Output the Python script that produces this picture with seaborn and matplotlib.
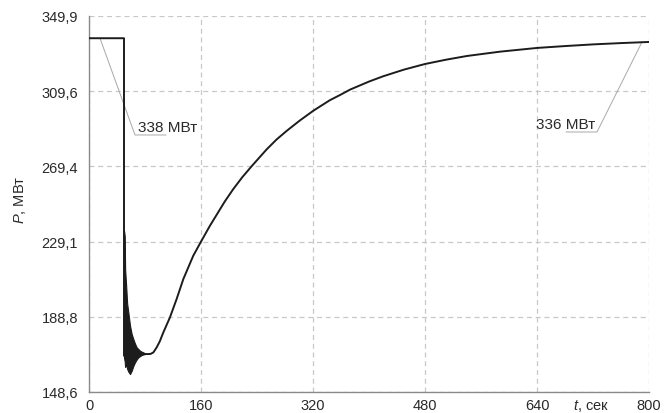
import matplotlib
matplotlib.use("Agg")
import matplotlib.pyplot as plt
import seaborn as sns
import numpy as np
import pandas as pd
from matplotlib.ticker import AutoMinorLocator

# ---- data ----
t_main = [0, 50, 50, 60, 70, 78, 84, 88, 92, 96.7, 101, 106.2, 115.7, 125.2,
          134.8, 149, 160, 172.9, 182.4, 194, 206.2, 219, 232.4, 253.8, 268,
          282.4, 301, 320.5, 344, 358.6, 373, 400, 420, 450, 480, 510, 540,
          587, 640, 680, 720, 760, 800]
p_main = [338.0, 338.0, 168.0, 169.5, 169.2, 169.0, 168.9, 169.0, 169.8, 172.5,
          175.6, 180.5, 188.6, 198.4, 209.1, 221.6, 229.1, 237.7, 243.5, 250.6,
          257.3, 263.6, 269.5, 278.5, 283.8, 288.4, 293.9, 299.2, 304.8, 307.6,
          310.5, 314.8, 317.6, 321.2, 324.2, 326.5, 328.5, 330.8, 332.8, 333.8,
          334.7, 335.4, 336.0]

# oscillation envelope after the disturbance
t_osc = [50.0, 51.0, 51.6, 53.0, 54.5, 56.2, 58.6, 61.0, 63.3, 65.7, 68.1, 70.5,
         72.9, 75.2, 77.6, 80.0]
p_osc_upper = [234.9, 232.0, 214.4, 206.0, 196.0, 191.2, 184.1, 179.6, 177.0,
               174.5, 172.5, 171.6, 170.7, 170.2, 169.8, 169.3]
p_osc_lower = [167.0, 165.0, 162.0, 163.5, 161.0, 159.5, 158.2, 160.0, 162.5,
               164.5, 166.0, 167.2, 167.8, 168.4, 168.7, 168.9]

x_ticks = [0, 160, 320, 480, 640, 800]
y_ticks = [148.6, 188.8, 229.1, 269.4, 309.6, 349.9]
y_tick_labels = ["148,6", "188,8", "229,1", "269,4", "309,6", "349,9"]
labels_ann = ["338 МВт", "336 МВт"]

# ---- style ----
sns.set_style("white")
plt.rcParams["font.family"] = ["Liberation Sans", "DejaVu Sans"]
plt.rcParams["mathtext.fontset"] = "custom"
plt.rcParams["mathtext.rm"] = "Liberation Sans"
plt.rcParams["mathtext.it"] = "Liberation Sans:italic"

fig = plt.figure(figsize=(6.7, 4.14), dpi=100)
ax = fig.add_axes([89 / 670, 1 - 393 / 414, 560 / 670, 376 / 414])

line_color = "#1c1c1c"
df = pd.DataFrame({"t": t_main, "P": p_main})
sns.lineplot(data=df, x="t", y="P", ax=ax, estimator=None, sort=False,
             color=line_color, linewidth=1.4, zorder=3)
ax.fill_between(t_osc, p_osc_lower, p_osc_upper, color=line_color,
                linewidth=0.8, edgecolor=line_color, zorder=3)

ax.set_xlim(0, 800)
ax.set_ylim(148.6, 349.9)
ax.set_xticks(x_ticks)
ax.set_xticklabels([str(v) for v in x_ticks])
ax.set_yticks(y_ticks)
ax.set_yticklabels(y_tick_labels)
ax.xaxis.set_minor_locator(AutoMinorLocator(2))
ax.yaxis.set_minor_locator(AutoMinorLocator(2))

ax.grid(True, which="major", color="#c8c8c8", linestyle=(0, (4, 3)), linewidth=0.9)
ax.set_axisbelow(True)
for side in ["top", "right"]:
    ax.spines[side].set_visible(False)
for side in ["left", "bottom"]:
    ax.spines[side].set_color("#8a8a8a")
    ax.spines[side].set_linewidth(1.0)

ax.tick_params(which="major", length=0, labelsize=10.5, labelcolor="#2a2a2a")
ax.tick_params(axis="y", which="major", pad=8)
ax.tick_params(axis="x", which="major", pad=4)
ax.tick_params(which="minor", direction="in", length=3, color="#8a8a8a", width=0.8)

ax.set_xlabel("")
ax.set_ylabel(r"$P$, МВт", fontsize=10.5, color="#2a2a2a")
ax.yaxis.set_label_coords((28 - 89) / 560, (393 - 200) / 376)

ax.annotate(r"$t$, сек", xy=(717, 0), xycoords=("data", "axes fraction"),
            xytext=(0, -3.5), textcoords="offset points", ha="center", va="top",
            fontsize=10.5, color="#2a2a2a")

# ---- leader annotations ----
lead = "#a8a8a8"
ax.plot([15.7, 65.7, 110], [p_main[0], 286.2, 286.2], color=lead, lw=0.7, zorder=2)
ax.text(70, 290.5, labels_ann[0], ha="left", va="center", fontsize=11, color="#2a2a2a")
ax.plot([790, 725.7, 681.4], [p_main[-1], 287.8, 287.8], color=lead, lw=0.7, zorder=2)
ax.text(723, 292.1, labels_ann[1], ha="right", va="center", fontsize=11, color="#2a2a2a")

fig.savefig("out.png", dpi=100, facecolor="white")
